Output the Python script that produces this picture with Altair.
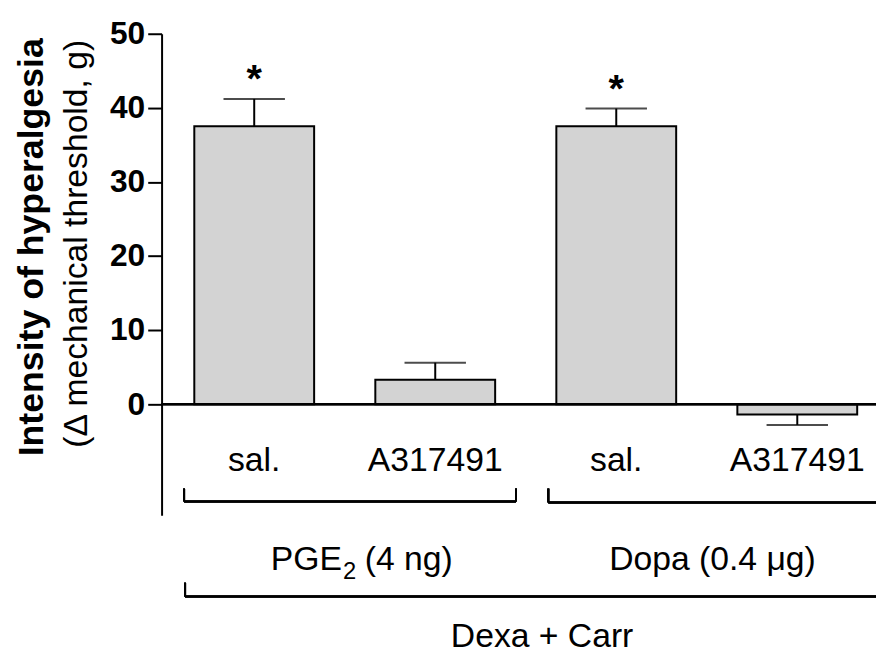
import altair as alt
import pandas as pd

# ---- data ----
bar_ids = ["PGE2_sal", "PGE2_A317491", "Dopa_sal", "Dopa_A317491"]
bar_labels = ["sal.", "A317491", "sal.", "A317491"]
means = [37.5, 3.3, 37.5, -1.4]
sems = [3.7, 2.3, 2.4, 1.4]
significant = [True, False, True, False]
y_ticks = [0, 10, 20, 30, 40, 50]

df = pd.DataFrame({
    "id": bar_ids,
    "label": bar_labels,
    "mean": means,
    "sem": sems,
    "sig": significant,
})
df["err_end"] = df["mean"] + df["sem"] * df["mean"].apply(lambda v: 1 if v >= 0 else -1)

FONT = "Liberation Sans"

x_enc = alt.X("id:N", sort=bar_ids, axis=None,
              scale=alt.Scale(paddingInner=0.338, paddingOuter=0.1423, align=0.635))
y_scale = alt.Scale(domain=[-15, 50], nice=False, zero=False)

base = alt.Chart(df)

bars = base.mark_bar(color="#d3d3d3", stroke="black", strokeWidth=2).encode(
    x=x_enc,
    y=alt.Y("mean:Q", scale=y_scale, title=None,
            axis=alt.Axis(values=y_ticks, grid=False, domainColor="black", domainWidth=2,
                          tickColor="black", tickWidth=2, tickSize=14,
                          labelFont=FONT, labelFontSize=32, labelFontWeight="bold",
                          labelColor="black", labelPadding=3)),
    y2=alt.datum(0),
)

err_rule = base.mark_rule(color="black", strokeWidth=2).encode(
    x=x_enc, y=alt.Y("mean:Q", scale=y_scale), y2="err_end:Q"
)
err_cap = base.mark_tick(color="black", thickness=2, size=62, orient="horizontal").encode(
    x=x_enc, y=alt.Y("err_end:Q", scale=y_scale)
)
stars = base.transform_filter("datum.sig").mark_text(
    text="*", font=FONT, fontSize=40, fontWeight="bold", baseline="alphabetic", dy=-7, color="black"
).encode(x=x_enc, y=alt.Y("err_end:Q", scale=y_scale))

zero_line = base.mark_rule(color="black", strokeWidth=2).encode(y=alt.datum(0))

cat_labels = base.mark_text(font=FONT, fontSize=34, baseline="alphabetic", color="black").encode(
    x=x_enc, y=alt.value(441), text="label:N"
)

def seg(x1, x2, y1, y2):
    return alt.Chart(df).mark_rule(color="black", strokeWidth=2).encode(
        x=alt.value(x1), x2=alt.value(x2), y=alt.value(y1), y2=alt.value(y2))

def txt(s, x, y, size=34, align="center", weight="normal", angle=0):
    return alt.Chart(pd.DataFrame({"t": [s]})).mark_text(
        font=FONT, fontSize=size, align=align, baseline="alphabetic",
        fontWeight=weight, angle=angle, color="black"
    ).encode(x=alt.value(x), y=alt.value(y), text="t:N")

brackets = [
    seg(22.7, 357.7, 472, 472), seg(22.7, 22.7, 459, 472), seg(357.7, 357.7, 459, 472),
    seg(390.3, 721, 473, 473), seg(390.3, 390.3, 459, 473),
    seg(23.7, 721, 568, 568), seg(23.7, 23.7, 554, 568),
]

annotations = [
    txt("PGE", 182, 541, align="right"),
    txt("2", 183, 550, size=24, align="left"),
    txt("(4 ng)", 205, 541, align="left"),
    txt("Dopa (0.4 \u03bcg)", 556, 541),
    txt("Dexa + Carr", 384, 619),
    txt("Intensity of hyperalgesia", -119.7, 215.5, size=36, weight="bold", angle=270),
    txt("(\u0394 mechanical threshold, g)", -75, 212, size=34, angle=270),
]

chart = alt.layer(
    bars, err_rule, err_cap, stars, zero_line, cat_labels, *brackets, *annotations
).properties(
    width=721, height=486,
    autosize=alt.AutoSizeParams(type="none"),
    padding={"left": 155, "top": 23, "right": 0, "bottom": 138},
).configure_view(stroke=None)

chart.save("out.html", embed_options={"renderer": "svg", "actions": False})
